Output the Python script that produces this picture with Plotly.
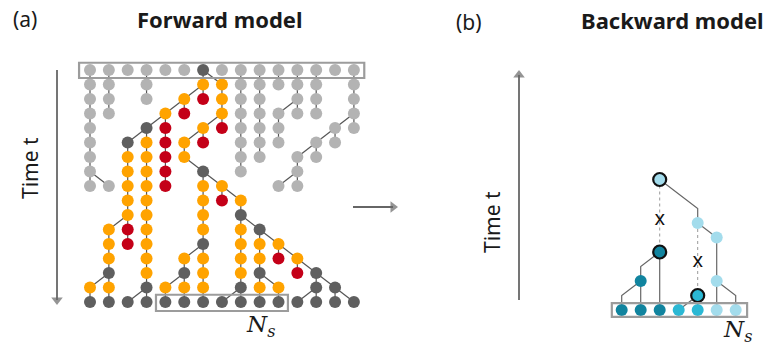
import plotly.graph_objects as go

W, H = 767, 347

# ---------------- Forward model data ----------------
# rows: top (ancestral generation) -> bottom (present), 15 individuals per row
# g = light grey, k = dark grey, o = orange, r = red, . = empty
fw_nodes = [
    "ggggggkgggggggg",
    "gg.g..ooggggg.g",
    "gg.g.orogg.gg.g",
    "gg..or.oggggg.g",
    "g..kr.orggg..gg",
    "g.koror.ggg.gg.",
    "g.ooro..gg.gg..",
    "g.oor.k.g..g...",
    "ggoor.oo..gg...",
    "..oo..oro......",
    "..oo..o.k......",
    ".oro..o.ok.....",
    ".oro..k.ooo....",
    ".o.o.oo.ooro...",
    ".k.o.ko.ok.rk..",
    "oo.kooo.koo.kk.",
    "kkkkkkkkkkkkkkk",
]
# parent in the previous row: | same column, L column-1, R column+1
fw_parent = [
    "...............",
    "||.|..|L|||||.|",
    "||.|.R||||.||.|",
    "||..R|.|||R||.|",
    "|..R|.R||||..R|",
    "|.R||R|.|||.R|.",
    "|.||||..||.R|..",
    "|.|||.L.|..|...",
    "|L|||.|L..R|...",
    "..||..||L......",
    "..||..|.|......",
    ".R||..|.|L.....",
    ".|||..|.||L....",
    ".|.|.R|.|||L...",
    ".|.|.||.||.|L..",
    "R|.|R||.||L.|L.",
    "||R||||R|||R||L",
]
fw_colors = {"g": "#b3b3b3", "k": "#5f5f5f", "o": "#ffa300", "r": "#c40018"}
sample_cols = [4, 10]  # sampled individuals N_s (first, last column)

# ---------------- Backward model data ----------------
# nodes: leaves 0..6, then internal nodes
bw_x = [0, 1, 2, 3, 4, 5, 6, 1, 2, 2, 4, 5, 5, 4]
bw_t = [0, 0, 0, 0, 0, 0, 0, 2, 4, 9, 6, 5, 2, 1]
bw_col = ["d", "d", "d", "m", "m", "l", "l", "d", "d", "l", "l", "l", "l", "m"]
bw_outline = [0, 0, 0, 0, 0, 0, 0, 0, 1, 1, 0, 0, 0, 1]
bw_parent = [7, 7, 8, 13, 13, 12, 12, 8, 9, -1, 9, 10, 11, 10]
bw_dotted = [0, 0, 0, 0, 0, 0, 0, 0, 1, 0, 0, 0, 0, 1]
mut_node = [8, 13]
mut_t = [6.2, 3.3]
bw_colors = {"d": "#11849f", "m": "#2bb8d4", "l": "#a3dcec"}

# ---------------- helpers ----------------
def px(x):
    return x / W

def py(y):
    return 1 - y / H

# Panel a pixel mapping: column c -> 90 + 18.85c ; row r -> 70 + 14.5r
A_X0, A_DX, A_Y0, A_DY = 90.0, 18.85, 70.0, 14.5
ax_l, ax_r, ay_t, ay_b = 70, 375, 52, 322
# Panel b mapping: slot x -> 621.7 + 19x ; time t -> 310 - 14.5t
B_X0, B_DX, B_Y0, B_DY = 621.7, 19.0, 310.0, 14.5
bx_l, bx_r, by_t, by_b = 600, 760, 165, 330

fig = go.Figure()

# forward edges
ex, ey = [], []
off = {"|": 0, "L": -1, "R": 1}
for r in range(1, len(fw_nodes)):
    for c, ch in enumerate(fw_parent[r]):
        if ch in off:
            ex += [c, c + off[ch], None]
            ey += [r, r - 1, None]
fig.add_trace(go.Scatter(x=ex, y=ey, mode="lines", line=dict(color="#555555", width=1.2),
                         hoverinfo="skip", showlegend=False, xaxis="x", yaxis="y"))
for key, colr in fw_colors.items():
    xs, ys = [], []
    for r, row in enumerate(fw_nodes):
        for c, ch in enumerate(row):
            if ch == key:
                xs.append(c)
                ys.append(r)
    fig.add_trace(go.Scatter(x=xs, y=ys, mode="markers", cliponaxis=False,
                             marker=dict(size=12, color=colr, line=dict(width=0)),
                             hoverinfo="skip", showlegend=False, xaxis="x", yaxis="y"))

# backward edges
sx, sy, dx_, dy_ = [], [], [], []
for i, p in enumerate(bw_parent):
    if p < 0:
        continue
    if bw_dotted[i]:
        dx_ += [bw_x[p], bw_x[i], None]
        dy_ += [bw_t[p], bw_t[i], None]
    else:
        elbow_t = bw_t[p] - abs(bw_x[i] - bw_x[p])
        sx += [bw_x[p], bw_x[i], bw_x[i], None]
        sy += [bw_t[p], elbow_t, bw_t[i], None]
fig.add_trace(go.Scatter(x=sx, y=sy, mode="lines", line=dict(color="#666666", width=1.2),
                         hoverinfo="skip", showlegend=False, xaxis="x2", yaxis="y2"))
fig.add_trace(go.Scatter(x=dx_, y=dy_, mode="lines", line=dict(color="#999999", width=1, dash="dot"),
                         hoverinfo="skip", showlegend=False, xaxis="x2", yaxis="y2"))
fig.add_trace(go.Scatter(x=[bw_x[n] for n in mut_node], y=mut_t, mode="text", text=["x"] * len(mut_t),
                         textfont=dict(size=20, color="#111111", family="Noto Sans"),
                         hoverinfo="skip", showlegend=False, xaxis="x2", yaxis="y2"))
for i in range(len(bw_x)):
    fig.add_trace(go.Scatter(x=[bw_x[i]], y=[bw_t[i]], mode="markers", cliponaxis=False,
                             marker=dict(size=13 if bw_outline[i] else 12, color=bw_colors[bw_col[i]],
                                         line=dict(width=2.2 if bw_outline[i] else 0, color="#111111")),
                             hoverinfo="skip", showlegend=False, xaxis="x2", yaxis="y2"))

# arrows (drawn on a full-figure pixel overlay axis)
arrows = [((57, 70), (57, 300)), ((519, 300), (519, 75)), ((353, 207), (393, 207))]
for (x0, y0), (x1, y1) in arrows:
    fig.add_trace(go.Scatter(x=[x0, x1], y=[y0, y1], mode="lines+markers", cliponaxis=False,
                             line=dict(color="#666666", width=1.8),
                             marker=dict(symbol="triangle-up", angleref="previous", size=[0, 10],
                                         color="#666666", line=dict(width=0)),
                             hoverinfo="skip", showlegend=False, xaxis="x3", yaxis="y3"))

# boxes
n_cols = len(fw_nodes[0])
last_row = len(fw_nodes) - 1
shapes = [
    dict(type="rect", xref="x", yref="y", x0=-0.58, x1=n_cols - 1 + 0.55, y0=-0.5, y1=0.55,
         line=dict(color="#9c9c9c", width=2.2)),
    dict(type="rect", xref="x", yref="y", x0=sample_cols[0] - 0.5, x1=sample_cols[1] + 0.5,
         y0=last_row - 0.5, y1=last_row + 0.62, line=dict(color="#9c9c9c", width=2.2)),
    dict(type="rect", xref="x2", yref="y2", x0=-0.52, x1=6.6, y0=0.48, y1=-0.48,
         line=dict(color="#9c9c9c", width=2.2)),
]

FONT = "Noto Sans"
ann = []
def text(x, y, s, size, bold=False, angle=0, family=FONT, xanchor="center"):
    ann.append(dict(x=px(x), y=py(y), xref="paper", yref="paper", text=("<b>%s</b>" % s) if bold else s,
                    showarrow=False, textangle=angle, xanchor=xanchor, yanchor="middle",
                    font=dict(size=size, color="#1a1a1a", family=family)))

text(25, 19, "(a)", 21)
text(220, 19, "Forward model", 22, bold=True)
text(469, 22, "(b)", 21)
text(672, 20, "Backward model", 22, bold=True)
text(30, 168, "Time t", 21, angle=-90)
text(492, 222, "Time t", 21, angle=-90)
text(260, 326, "<i>N</i><sub><i>s</i></sub>", 23, family="DejaVu Serif")
text(737, 331, "<i>N</i><sub><i>s</i></sub>", 23, family="DejaVu Serif")

fig.update_layout(
    width=W, height=H, margin=dict(l=0, r=0, t=0, b=0),
    paper_bgcolor="white", plot_bgcolor="rgba(0,0,0,0)",
    shapes=shapes, annotations=ann,
    xaxis=dict(domain=[px(ax_l), px(ax_r)],
               range=[(ax_l - A_X0) / A_DX, (ax_r - A_X0) / A_DX], visible=False),
    yaxis=dict(domain=[py(ay_b), py(ay_t)],
               range=[(ay_b - A_Y0) / A_DY, (ay_t - A_Y0) / A_DY], visible=False),
    xaxis2=dict(domain=[px(bx_l), px(bx_r)],
                range=[(bx_l - B_X0) / B_DX, (bx_r - B_X0) / B_DX], visible=False),
    yaxis2=dict(domain=[py(by_b), py(by_t)],
                range=[(B_Y0 - by_b) / B_DY, (B_Y0 - by_t) / B_DY], visible=False),
    xaxis3=dict(domain=[0, 1], range=[0, W], visible=False),
    yaxis3=dict(domain=[0, 1], range=[H, 0], visible=False),
)

fig.write_html("out.html")
